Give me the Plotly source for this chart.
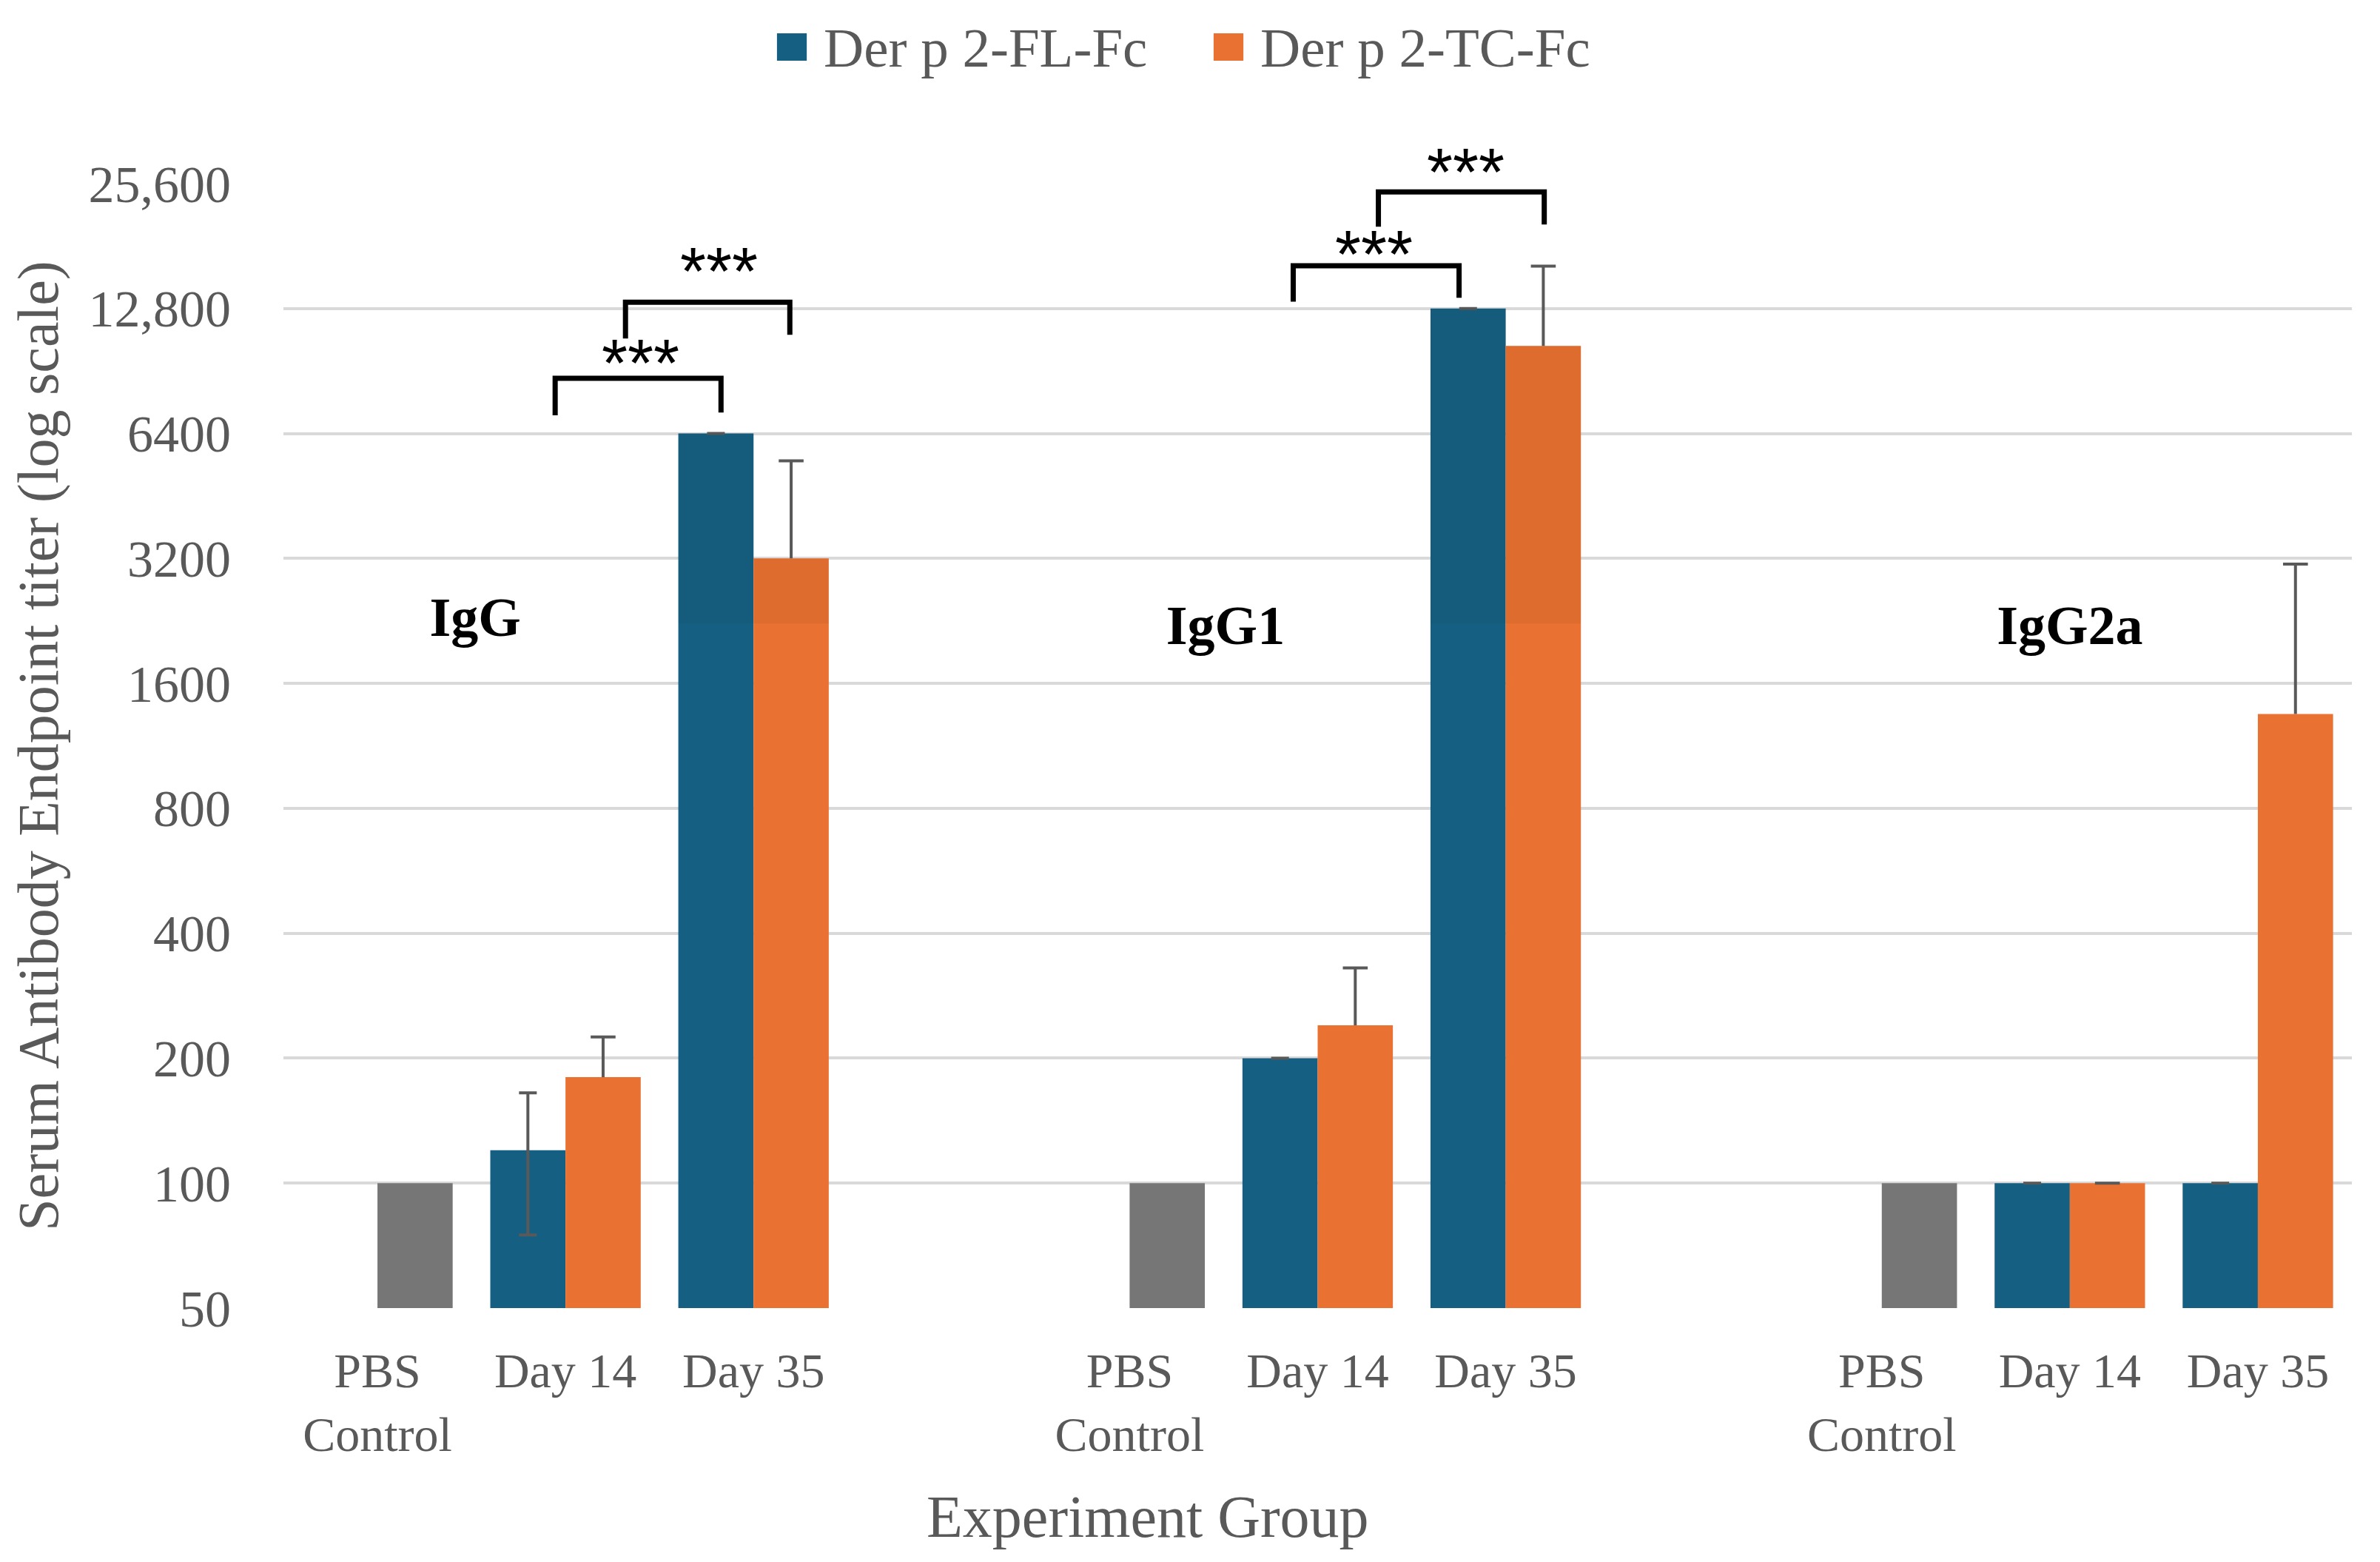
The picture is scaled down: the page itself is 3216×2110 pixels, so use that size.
import math
import plotly.graph_objects as go

# data
groups = ["IgG", "IgG1", "IgG2a"]
timepoints = ["PBS<br>Control", "Day 14", "Day 35"]
pbs_titer = [100, 100, 100]
fl_titer = [None, 120, 6400, None, 200, 12800, None, 100, 100]
fl_err = [0, 45, 0, 0, 0, 0, 0, 0, 0]
tc_titer = [None, 180, 3200, None, 240, 10400, None, 100, 1350]
tc_err = [None, 45, 2300, None, 90, 5800, None, 0, 1750]
ytick_vals = [50, 100, 200, 400, 800, 1600, 3200, 6400, 12800, 25600]
ytick_text = ["50", "100", "200", "400", "800", "1600", "3200", "6400", "12,800", "25,600"]

# significance brackets (x in category units, y in titer units)
sig_x0 = [0.945, 1.319, 4.870, 5.323]
sig_x1 = [1.827, 2.193, 5.752, 6.205]
sig_top = [8690, 13250, 16220, 24450]
sig_foot0 = [7080, 10840, 13300, 20150]
sig_foot1 = [7190, 11070, 13590, 20410]
sig_star_x = [1.398, 1.815, 5.299, 5.787]
sig_star_y = [9950, 16550, 18190, 28700]

BLUE = "#156082"
ORANGE = "#E97132"
GREY = "#767676"
TXT = "#595959"
SERIF = "Liberation Serif"
YLO, YHI = math.log10(50), math.log10(25600)

pos = [g * 4 + t for g in range(len(groups)) for t in range(len(timepoints))]
pbs_pos = [g * 4 for g in range(len(groups))]
labels = [timepoints[t] for g in range(len(groups)) for t in range(len(timepoints))]

fig = go.Figure()
fig.add_trace(go.Bar(x=pos, y=fl_titer, offset=-0.4, width=0.4, name="Der p 2-FL-Fc",
                     marker=dict(color=BLUE, line=dict(width=0)),
                     error_y=dict(type="data", array=fl_err, color=TXT, thickness=4, width=12)))
fig.add_trace(go.Bar(x=pos, y=tc_titer, offset=0, width=0.4, name="Der p 2-TC-Fc",
                     marker=dict(color=ORANGE, line=dict(width=0))))
fig.add_trace(go.Bar(x=pbs_pos, y=pbs_titer, offset=0, width=0.4, name="PBS",
                     marker=dict(color=GREY, line=dict(width=0))))

# plus-only error bars for the TC series (no cap at the bar top)
ex, ey, cx, cy = [], [], [], []
for p, v, e in zip(pos, tc_titer, tc_err):
    if v is None:
        continue
    ex += [p + 0.2, p + 0.2, None]
    ey += [v, v + e, None]
    cx.append(p + 0.2)
    cy.append(v + e)
fig.add_trace(go.Scatter(x=ex, y=ey, mode="lines", line=dict(color=TXT, width=4), hoverinfo="skip"))
fig.add_trace(go.Scatter(x=cx, y=cy, mode="markers", hoverinfo="skip",
                         marker=dict(symbol="line-ew", size=24, line=dict(color=TXT, width=4))))

# faint darker band over the top of the Day 35 bars (as in the source image)
for g in (0, 1):
    xc = g * 4 + 2
    for off, val in ((-0.4, fl_titer[g * 3 + 2]), (0.0, tc_titer[g * 3 + 2])):
        fig.add_trace(go.Scatter(x=[xc + off, xc + off + 0.4, xc + off + 0.4, xc + off],
                                 y=[2230, 2230, val, val], fill="toself",
                                 fillcolor="rgba(0,0,0,0.045)", mode="lines",
                                 line=dict(width=0), hoverinfo="skip"))

for i in range(len(sig_x0)):
    fig.add_trace(go.Scatter(x=[sig_x0[i], sig_x0[i], sig_x1[i], sig_x1[i]],
                             y=[sig_foot0[i], sig_top[i], sig_top[i], sig_foot1[i]],
                             mode="lines", line=dict(color="black", width=7), hoverinfo="skip"))
# stars: y given as a fraction of the log axis so the top one can sit above the plot
for sx, sy in zip(sig_star_x, sig_star_y):
    fig.add_annotation(text="***", x=sx, y=(math.log10(sy) - YLO) / (YHI - YLO),
                       xref="x", yref="paper", showarrow=False,
                       xanchor="center", yanchor="middle", yshift=-13,
                       font=dict(family="Liberation Sans", size=90, color="black"))
fig.add_trace(go.Scatter(x=[0.52, 4.51, 9.0], y=[2250, 2150, 2150], mode="text", text=groups,
                         textfont=dict(family=SERIF, size=74, color="black", weight="bold")))

fig.update_layout(
    width=3200, height=2094,
    margin=dict(l=375, r=30, t=240, b=335),
    plot_bgcolor="white", paper_bgcolor="white",
    barmode="overlay", showlegend=False,
    font=dict(family=SERIF, color=TXT, size=70),
)
fig.update_xaxes(range=[-0.5, 10.5], tickvals=pos, ticktext=labels, showgrid=False,
                 zeroline=False, showline=False, ticks="", ticklabelstandoff=40,
                 tickfont=dict(size=66, color=TXT))
fig.update_yaxes(type="log", range=[YLO, YHI], tickvals=ytick_vals, ticktext=ytick_text,
                 showgrid=True, gridcolor="#D9D9D9", gridwidth=4, zeroline=False,
                 ticks="", ticklabelstandoff=70, tickfont=dict(size=70, color=TXT),
                 title=dict(text="Serum Antibody Endpoint titer (log scale)",
                            font=dict(size=78, color=TXT), standoff=16))

# x-axis title
fig.add_annotation(text="Experiment Group", xref="paper", yref="paper", x=0.418, y=-0.1857,
                   xanchor="center", yanchor="middle", showarrow=False,
                   font=dict(size=80, color=TXT))

# legend drawn by hand so the swatches match the reference size
legend_items = [("Der p 2-FL-Fc", BLUE, 0.2386), ("Der p 2-TC-Fc", ORANGE, 0.4497)]
for name, col, x0 in legend_items:
    fig.add_shape(type="rect", xref="paper", yref="paper", x0=x0, x1=x0 + 0.0144,
                  y0=1.1093, y1=1.1336, fillcolor=col, line=dict(width=0))
    fig.add_annotation(text=name, xref="paper", yref="paper", x=x0 + 0.0219, y=1.1211,
                       xanchor="left", yanchor="middle", showarrow=False,
                       font=dict(size=75, color=TXT))

fig.write_html("out.html")
